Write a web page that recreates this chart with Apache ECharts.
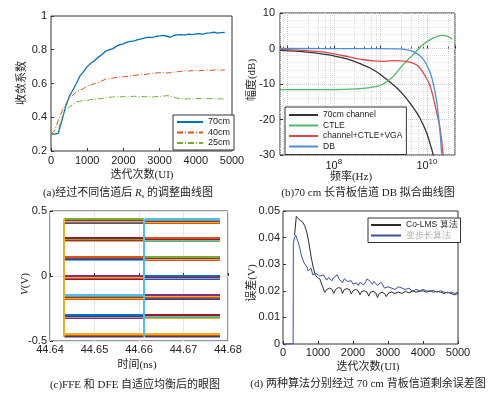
<!DOCTYPE html>
<html>
<head>
<meta charset="utf-8">
<script src="https://cdn.jsdelivr.net/npm/echarts@6/dist/echarts.min.js"></script>
<style>
  html, body { margin: 0; padding: 0; background: #fff; }
  #main { width: 500px; height: 399px; }
</style>
</head>
<body>
<div id="main"></div>
<script>
  // (a) convergence coefficient vs iterations
  const aIter = [0, 100, 200, 300, 400, 500, 600, 700, 800, 900, 1000, 1100, 1200, 1300, 1400, 1500, 1600, 1700, 1800, 1900,
    2000, 2100, 2200, 2300, 2400, 2500, 2600, 2700, 2800, 2900, 3000, 3100, 3200, 3300, 3400, 3500, 3600, 3700, 3800, 3900,
    4000, 4100, 4200, 4300, 4400, 4500, 4600, 4700, 4800]
  const a70 = [0.30, 0.30, 0.305, 0.38, 0.46, 0.52, 0.56, 0.60, 0.645, 0.67, 0.70, 0.72, 0.735, 0.755, 0.77, 0.79, 0.80, 0.805, 0.82, 0.83,
    0.835, 0.845, 0.85, 0.852, 0.86, 0.865, 0.87, 0.875, 0.872, 0.88, 0.882, 0.885, 0.88, 0.874, 0.886, 0.888, 0.89, 0.887, 0.892, 0.89,
    0.894, 0.896, 0.893, 0.898, 0.90, 0.905, 0.898, 0.902, 0.903]
  const a40 = [0.30, 0.32, 0.38, 0.435, 0.475, 0.51, 0.53, 0.55, 0.56, 0.57, 0.585, 0.59, 0.60, 0.605, 0.615, 0.625, 0.628, 0.632, 0.635, 0.638,
    0.64, 0.642, 0.645, 0.648, 0.65, 0.655, 0.653, 0.658, 0.66, 0.662, 0.664, 0.665, 0.662, 0.665, 0.668, 0.67, 0.672, 0.676, 0.674, 0.676,
    0.678, 0.675, 0.678, 0.68, 0.677, 0.68, 0.681, 0.679, 0.68]
  const a25 = [0.30, 0.30, 0.32, 0.40, 0.44, 0.46, 0.475, 0.49, 0.495, 0.50, 0.50, 0.505, 0.505, 0.51, 0.51, 0.515, 0.518, 0.52, 0.522, 0.519,
    0.524, 0.52, 0.522, 0.525, 0.52, 0.524, 0.521, 0.525, 0.52, 0.522, 0.524, 0.525, 0.528, 0.526, 0.52, 0.512, 0.51, 0.507, 0.51, 0.509,
    0.51, 0.512, 0.509, 0.512, 0.51, 0.51, 0.508, 0.51, 0.506]

  // (b) 70 cm channel fit, frequency in Hz, magnitude in dB
  const chanF = [7e6, 1.5e7, 3e7, 6e7, 1e8, 2e8, 4e8, 6e8, 1e9, 2e9, 3e9, 5e9, 7e9, 1e10, 1.4e10]
  const chanDb = [-0.55, -0.75, -1.1, -1.6, -2.1, -3.0, -4.5, -5.5, -7.3, -10.5, -12.8, -16.5, -19.5, -24, -30.5]
  const ctleF = [7e6, 1e8, 3e8, 6e8, 1e9, 1.5e9, 2e9, 3e9, 5e9, 8e9, 1.35e10, 2.1e10, 2.8e10, 3.5e10]
  const ctleDb = [-11.6, -11.6, -11.4, -11.0, -10.4, -9.0, -7.5, -4.7, -1.8, 1.0, 2.9, 3.7, 3.4, 2.6]
  const vgaF = [7e6, 2e7, 5e7, 1e8, 2e8, 4e8, 7e8, 1.2e9, 2e9, 3.5e9, 5e9, 6.5e9, 8e9, 1e10, 1.15e10, 1.35e10, 1.6e10, 1.85e10, 2.05e10, 2.25e10, 2.35e10]
  const vgaDb = [-0.25, -0.5, -0.9, -1.5, -2.3, -3.1, -3.5, -3.6, -3.4, -3.6, -4.1, -5.0, -6.5, -8.6, -10.3, -13.5, -17.8, -21.5, -25.5, -30.5, -33]
  const dbF = [7e6, 1e9, 2e9, 3e9, 5e9, 8e9, 1.15e10, 1.4e10, 1.6e10, 1.8e10, 1.95e10, 2.1e10]
  const dbDb = [0, -0.05, -0.1, -0.2, -0.8, -2.7, -6.5, -10.5, -14.5, -20, -25, -31]

  // (c) eye diagram after FFE and DFE
  const eyeLevels = [0.425, 0.285, 0.135, -0.01, -0.16, -0.31, -0.455]
  const eyeSpread = [-0.013, -0.0065, 0, 0.0065, 0.013]
  const eyeTimes = [44.6432, 44.6611, 44.6613, 44.6782]
  const eyeColors = ['#0072BD', '#D95319', '#EDB120', '#7E2F8E', '#77AC30', '#4DBEEE', '#A2142F']

  // (d) residual error of the two algorithms
  const dIterCo = [330, 380, 430, 480, 550, 620, 680, 740, 800, 860, 920, 980, 1050, 1120, 1190, 1250, 1330, 1400, 1450, 1500,
    1580, 1650, 1700, 1750, 1830, 1900, 1950, 2000, 2080, 2150, 2200, 2250, 2330, 2400, 2450, 2500, 2580, 2650, 2700, 2750,
    2830, 2900, 2950, 3000, 3100, 3200, 3300, 3400, 3500, 3600, 3700, 3800, 3900, 4000, 4100, 4200, 4300, 4400, 4500, 4600,
    4700, 4800, 4900, 5000]
  const dErrCo = [0.041, 0.048, 0.0478, 0.0465, 0.046, 0.0445, 0.042, 0.038, 0.033, 0.029, 0.026, 0.025, 0.0245, 0.022, 0.0194, 0.0205, 0.021, 0.0205, 0.019, 0.0205,
    0.0212, 0.021, 0.019, 0.0205, 0.0208, 0.0205, 0.0188, 0.020, 0.0205, 0.020, 0.0185, 0.0198, 0.020, 0.0195, 0.018, 0.0195, 0.0198, 0.0192, 0.0175, 0.019,
    0.0195, 0.019, 0.0178, 0.019, 0.0195, 0.019, 0.0195, 0.019, 0.0198, 0.0192, 0.020, 0.0195, 0.0198, 0.020, 0.0195, 0.020, 0.0195, 0.0198, 0.0195, 0.019,
    0.0195, 0.019, 0.0185, 0.019]
  const dIterVs = [0, 290, 295, 330, 360, 400, 440, 480, 520, 560, 600, 640, 680, 720, 760, 800, 850, 900, 950, 1000,
    1050, 1100, 1150, 1200, 1250, 1300, 1350, 1400, 1450, 1500, 1550, 1600, 1650, 1700, 1750, 1800, 1850, 1900, 1950, 2000,
    2100, 2150, 2200, 2300, 2350, 2400, 2450, 2500, 2550, 2600, 2700, 2800, 2850, 2900, 3000, 3100, 3200, 3300, 3400, 3500,
    3600, 3700, 3800, 3900, 4000, 4100, 4200, 4300, 4400, 4500, 4600, 4700, 4800, 4900, 5000]
  const dErrVs = [0, 0, 0.038, 0.040, 0.041, 0.0405, 0.038, 0.036, 0.0335, 0.032, 0.0305, 0.031, 0.029, 0.0275, 0.028, 0.0285, 0.026, 0.0255, 0.0265, 0.026,
    0.0255, 0.025, 0.026, 0.0255, 0.024, 0.025, 0.0245, 0.0238, 0.025, 0.0245, 0.026, 0.0245, 0.024, 0.023, 0.0245, 0.024, 0.0235, 0.0228, 0.0238, 0.0225,
    0.023, 0.022, 0.0232, 0.0222, 0.023, 0.0245, 0.024, 0.0235, 0.0225, 0.0235, 0.022, 0.0232, 0.0222, 0.021, 0.0215, 0.021, 0.0205, 0.0215, 0.021, 0.0205,
    0.021, 0.0198, 0.0205, 0.020, 0.0205, 0.020, 0.0198, 0.0202, 0.0195, 0.020, 0.0195, 0.0192, 0.0195, 0.019, 0.0195]

  const zip = (xs, ys) => xs.map((x, i) => [x, ys[i]])
  const sans = '"Liberation Sans", Arial, sans-serif'
  const serif = '"Liberation Serif", "Noto Sans CJK SC", serif'
  const plain = v => String(+v.toFixed(6))
  const tickLabel = { fontFamily: sans, fontSize: 11, color: '#222', formatter: plain }
  const tick = { inside: true, length: 3, lineStyle: { color: '#333' } }

  function axis (idx, margin, extra) {
    return Object.assign({
      gridIndex: idx,
      type: 'value',
      axisLine: { show: false },
      axisTick: tick,
      splitLine: { show: false },
      axisLabel: Object.assign({}, tickLabel, { margin: margin })
    }, extra)
  }

  // line-only legend: the marker symbol is hidden, the line sample stays
  function legendBox (names, left, top, width, size, pad) {
    return {
      data: names, orient: 'vertical', left: left, top: top,
      itemWidth: width, itemHeight: 4, itemGap: 0.5, padding: pad, selectedMode: false,
      itemStyle: { opacity: 0 },
      borderColor: '#333', borderWidth: 1, backgroundColor: '#fff', borderRadius: 0,
      textStyle: { fontFamily: sans, fontSize: size, lineHeight: 10, color: '#222' }
    }
  }

  // axis titles and captions
  function label (text, x, y, vertical, rich) {
    return {
      type: 'text', x: x, y: y, rotation: vertical ? Math.PI / 2 : 0,
      style: { text: text, font: '11px ' + serif, fill: '#222', align: 'center', verticalAlign: 'middle', rich: rich || {} }
    }
  }

  // eye segments built from levels and crossing times
  let eyeSegs = []
  eyeLevels.forEach((lv, i) => {
    eyeSpread.forEach((off, j) => {
      let col = eyeColors[(i * 2 + j) % eyeColors.length]
      eyeSegs.push({ coords: [[eyeTimes[0], lv + off], [eyeTimes[1], lv + off]], lineStyle: { color: col } })
      let col2 = eyeColors[(i * 3 + j + 1) % eyeColors.length]
      eyeSegs.push({ coords: [[eyeTimes[2], lv + off], [eyeTimes[3], lv + off]], lineStyle: { color: col2 } })
    })
  })
  let eyeTop = eyeLevels[0] + 0.013
  let eyeBottom = eyeLevels[eyeLevels.length - 1] - 0.013
  eyeSegs.push({ coords: [[eyeTimes[0], eyeBottom], [eyeTimes[0], eyeTop]], lineStyle: { color: '#EDB120' } })
  eyeSegs.push({ coords: [[eyeTimes[1], eyeBottom], [eyeTimes[1], eyeTop]], lineStyle: { color: '#4DBEEE' } })

  let chart = echarts.init(document.getElementById('main'))
  chart.setOption({
    animation: false,
    backgroundColor: '#fff',
    grid: [
      { left: 51, top: 16, width: 181, height: 135, show: true, borderColor: '#333', borderWidth: 1 },
      { left: 280, top: 13, width: 175, height: 142, show: true, borderColor: '#333', borderWidth: 1 },
      { left: 50, top: 211, width: 178, height: 130, show: true, borderColor: '#333', borderWidth: 1 },
      { left: 283, top: 211, width: 175, height: 133, show: true, borderColor: '#333', borderWidth: 1 }
    ],
    xAxis: [
      axis(0, 4, { min: 0, max: 5000, interval: 1000 }),
      axis(1, 3, {
        type: 'log', logBase: 10, min: 7e6, max: 4e10,
        splitLine: { show: true, lineStyle: { color: '#c8c8c8', type: 'dotted' } },
        minorTick: { show: true, splitNumber: 5, length: 2 },
        minorSplitLine: { show: true, lineStyle: { color: '#dcdcdc', type: 'dotted' } },
        axisLabel: Object.assign({}, tickLabel, {
          margin: 3,
          formatter: function (v) {
            let e = Math.log10(v)
            let r = Math.round(e)
            if (Math.abs(e - r) > 1e-6 || r % 2 !== 0) return ''
            return '{b|10}{s|' + r + '}'
          },
          rich: { b: { fontFamily: sans, fontSize: 11, color: '#222' }, s: { fontFamily: sans, fontSize: 8, color: '#222', padding: [0, 0, 7, 0] } }
        })
      }),
      axis(2, 3, {
        min: 44.64, max: 44.68, interval: 0.01,
        splitLine: { show: true, lineStyle: { color: '#e6e6e6' } },
        axisLabel: Object.assign({}, tickLabel, { margin: 3, formatter: v => v.toFixed(2) })
      }),
      axis(3, 3, { min: 0, max: 5000, interval: 1000 })
    ],
    yAxis: [
      axis(0, 4, { min: 0.2, max: 1, interval: 0.2 }),
      axis(1, 5, {
        min: -30, max: 10, interval: 10,
        splitLine: { show: true, lineStyle: { color: '#c8c8c8', type: 'dotted' } },
        minorSplitLine: { show: true, lineStyle: { color: '#e4e4e4', type: 'dotted' } },
        minorTick: { show: false, splitNumber: 5 }
      }),
      axis(2, 3, {
        min: -0.5, max: 0.5, interval: 0.5,
        splitLine: { show: true, lineStyle: { color: '#e6e6e6' } }
      }),
      axis(3, 3, { min: 0, max: 0.05, interval: 0.01 })
    ],
    legend: [
      legendBox(['70cm', '40cm', '25cm'], 173, 115, 26, 9, [2, 4, 2, 3]),
      legendBox(['70cm channel', 'CTLE', 'channel+CTLE+VGA', 'DB'], 285, 107, 29, 8.5, [3, 4, 3, 3]),
      legendBox(['Co-LMS 算法', { name: '变步长算法', textStyle: { color: '#aaa' } }], 368, 218, 30, 8.5, [2, 3, 2, 2])
    ],
    series: [
      { name: '70cm', type: 'line', xAxisIndex: 0, yAxisIndex: 0, data: zip(aIter, a70), symbol: 'none', lineStyle: { color: '#0072BD', width: 1.3 }, itemStyle: { color: '#0072BD' } },
      { name: '40cm', type: 'line', xAxisIndex: 0, yAxisIndex: 0, data: zip(aIter, a40), symbol: 'none', lineStyle: { color: '#D95319', width: 1, type: [6, 2, 1, 2] }, itemStyle: { color: '#D95319' } },
      { name: '25cm', type: 'line', xAxisIndex: 0, yAxisIndex: 0, data: zip(aIter, a25), symbol: 'none', lineStyle: { color: '#77AC30', width: 1, type: [6, 2, 1, 2] }, itemStyle: { color: '#77AC30' } },

      { name: '70cm channel', type: 'line', xAxisIndex: 1, yAxisIndex: 1, data: zip(chanF, chanDb), symbol: 'none', smooth: 0.3, lineStyle: { color: '#333', width: 1.3 }, itemStyle: { color: '#333' } },
      { name: 'CTLE', type: 'line', xAxisIndex: 1, yAxisIndex: 1, data: zip(ctleF, ctleDb), symbol: 'none', smooth: 0.3, lineStyle: { color: '#4dba66', width: 1.3 }, itemStyle: { color: '#4dba66' } },
      { name: 'channel+CTLE+VGA', type: 'line', xAxisIndex: 1, yAxisIndex: 1, data: zip(vgaF, vgaDb), symbol: 'none', smooth: 0.3, lineStyle: { color: '#e0474c', width: 1.3 }, itemStyle: { color: '#e0474c' } },
      { name: 'DB', type: 'line', xAxisIndex: 1, yAxisIndex: 1, data: zip(dbF, dbDb), symbol: 'none', smooth: 0.3, lineStyle: { color: '#4a8fd8', width: 1.3 }, itemStyle: { color: '#4a8fd8' } },

      { type: 'lines', coordinateSystem: 'cartesian2d', xAxisIndex: 2, yAxisIndex: 2, polyline: false, silent: true, lineStyle: { width: 2, opacity: 1 }, data: eyeSegs },

      { name: 'Co-LMS 算法', type: 'line', xAxisIndex: 3, yAxisIndex: 3, data: zip(dIterCo, dErrCo), symbol: 'none', lineStyle: { color: '#2b2b2b', width: 1 }, itemStyle: { color: '#2b2b2b' } },
      { name: '变步长算法', type: 'line', xAxisIndex: 3, yAxisIndex: 3, data: zip(dIterVs, dErrVs), symbol: 'none', lineStyle: { color: '#3c4ea6', width: 1 }, itemStyle: { color: '#3c4ea6' } }
    ],
    graphic: [
      label('迭代次数(UI)', 142, 175),
      label('收敛系数', 22, 83, true),
      label('频率(Hz)', 351, 177),
      label('幅度(dB)', 252, 80, true),
      label('时间(ns)', 137, 365),
      label('{i|V}(V)', 25, 284, true, { i: { fontFamily: serif, fontStyle: 'italic', fontSize: 11, fill: '#222' } }),
      label('迭代次数(UI)', 368, 367),
      label('误差(V)', 252, 283, true),
      label('(a)经过不同信道后 {r|R}{s|s} 的调整曲线图', 128, 193, false,
        { r: { fontFamily: serif, fontStyle: 'italic', fontSize: 11, fill: '#222' }, s: { fontFamily: serif, fontSize: 7, fill: '#222', padding: [6, 0, 0, 0] } }),
      label('(b)70 cm 长背板信道 DB 拟合曲线图', 368, 193),
      label('(c)FFE 和 DFE 自适应均衡后的眼图', 135, 385),
      label('(d) 两种算法分别经过 70 cm 背板信道剩余误差图', 368, 384)
    ]
  })
</script>
</body>
</html>
